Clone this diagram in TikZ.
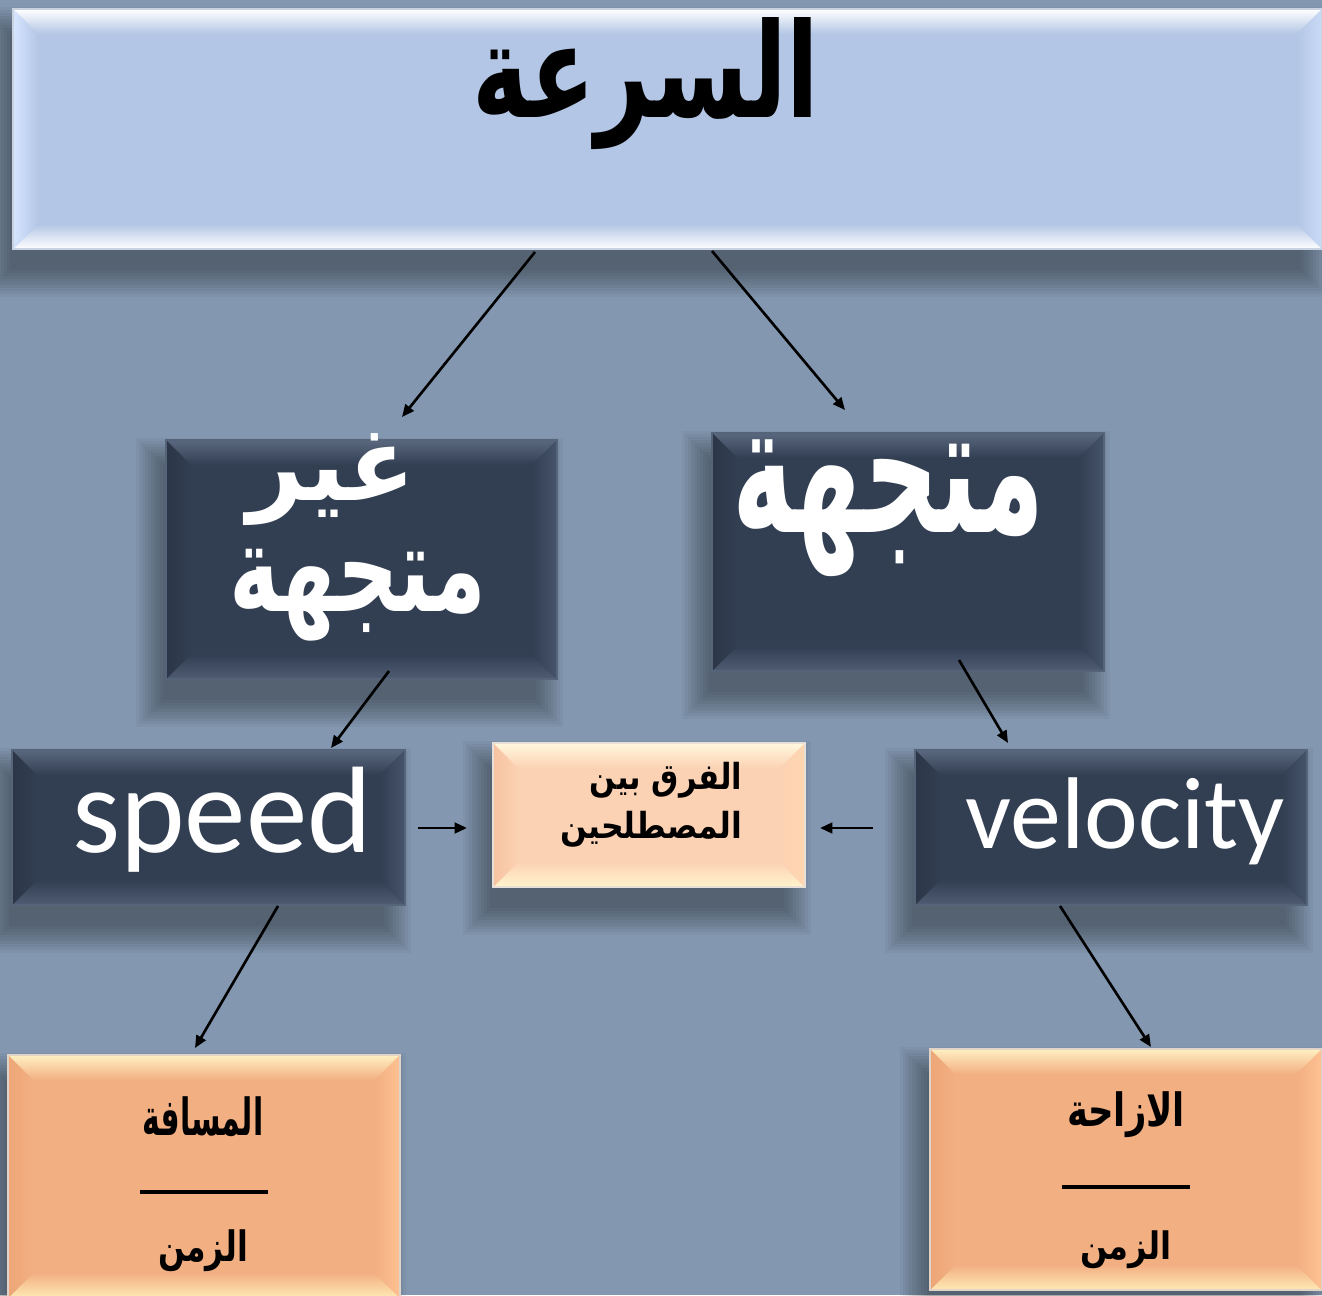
\documentclass[tikz,border=0pt]{standalone}
\usepackage{fontspec}
\usepackage{graphicx}
\usetikzlibrary{arrows.meta,fit,calc}
\TeXXeTstate=1
\newfontfamily\arabicfont[Script=Arabic]{DejaVu Sans}
\setsansfont{Carlito}
\newlength\pxu
\setlength\pxu{0.02cm}

\definecolor{bg}{HTML}{8397B0}
% title box (A)
\definecolor{Afill}{HTML}{B3C6E5}
\definecolor{Atop}{HTML}{FFFFFF}
\definecolor{Abot}{HTML}{FFFFFF}
\definecolor{Aleft}{HTML}{D6E6FF}
\definecolor{Aright}{HTML}{C9DBF6}
\definecolor{Aedge}{HTML}{C8D2E0}
% dark boxes (D)
\definecolor{Dfill}{HTML}{323E52}
\definecolor{Dtop}{HTML}{5A687F}
\definecolor{Dbot}{HTML}{4F5C73}
\definecolor{Dleft}{HTML}{2C3648}
\definecolor{Dright}{HTML}{46546B}
\definecolor{Dedge}{HTML}{56647A}
% light peach (P)
\definecolor{Pfill}{HTML}{FCD2B4}
\definecolor{Ptop}{HTML}{FFF8DE}
\definecolor{Pbot}{HTML}{FFF4CC}
\definecolor{Pleft}{HTML}{F6C3A0}
\definecolor{Pright}{HTML}{FFD6B0}
\definecolor{Pedge}{HTML}{E8E0D8}
% orange (Q)
\definecolor{Qfill}{HTML}{F2AF82}
\definecolor{Qtop}{HTML}{FFF0C2}
\definecolor{Qbot}{HTML}{FFEAB4}
\definecolor{Qleft}{HTML}{EDA677}
\definecolor{Qright}{HTML}{FFC292}
\definecolor{Qedge}{HTML}{E0D4C8}

\newcommand\bshadow[4]{%
  \foreach \k in {1,...,10}{%
    \fill[black,opacity=0.04] (#1-3*\k,#2+28-3*\k) rectangle (#3-24+3*\k,#4+18+3*\k);
  }%
}
\newcommand\bevbox[6]{%
  \coordinate (#1-nw) at (#2,#3);
  \coordinate (#1-se) at (#4,#5);
  \node[fit=(#1-nw)(#1-se),inner sep=0pt] (#1) {};
  \fill[#6fill] (#2,#3) rectangle (#4,#5);
  \shade[top color=#6top,bottom color=#6fill] (#2,#3) -- (#4,#3) -- (#4-25,#3+25) -- (#2+25,#3+25) -- cycle;
  \shade[top color=#6fill,bottom color=#6bot] (#2,#5) -- (#4,#5) -- (#4-25,#5-25) -- (#2+25,#5-25) -- cycle;
  \shade[left color=#6left,right color=#6fill] (#2,#3) -- (#2+25,#3+25) -- (#2+25,#5-25) -- (#2,#5) -- cycle;
  \shade[left color=#6fill,right color=#6right] (#4,#3) -- (#4-25,#3+25) -- (#4-25,#5-25) -- (#4,#5) -- cycle;
  \draw[#6edge,line width=0.6pt] (#2,#3) rectangle (#4,#5);
}
% Arabic text: name, x, y, colour, width(px), height(px), text (with \beginR..\endR)
\newcommand\artext[7]{%
  \node[text=#4,inner sep=0pt] (#1) at (#2,#3) {\resizebox*{#5\pxu}{#6\pxu}{\arabicfont\bfseries #7}};
}
% Latin text: name, x, y, size(pt), text
\newcommand\latext[5]{%
  \node[text=white,inner sep=0pt] (#1) at (#2,#3) {\fontsize{#4}{#4}\selectfont\sffamily #5};
}

\begin{document}
\begin{tikzpicture}[x=0.02cm,y=-0.02cm,
  arr/.style={line width=1.5pt,-{Triangle[length=7pt,width=6pt]}},
  fracline/.style={line width=2.3pt,black}]
\useasboundingbox (0,0) rectangle (1322,1295);
\clip (0,0) rectangle (1322,1295);
\fill[bg] (0,0) rectangle (1322,1295);

% shadows
\bshadow{13}{9}{1322}{249}
\bshadow{166}{440}{557}{679}
\bshadow{712}{433}{1104}{671}
\bshadow{12}{750}{405}{905}
\bshadow{915}{750}{1307}{905}
\bshadow{493}{743}{805}{887}
\bshadow{8}{1055}{400}{1298}
\bshadow{930}{1049}{1322}{1290}

% boxes
\bevbox{title}{13}{9}{1322}{249}{A}
\bevbox{scalar}{166}{440}{557}{679}{D}
\bevbox{vector}{712}{433}{1104}{671}{D}
\bevbox{speed}{12}{750}{405}{905}{D}
\bevbox{velocity}{915}{750}{1307}{905}{D}
\bevbox{diff}{493}{743}{805}{887}{P}
\bevbox{dist}{8}{1055}{400}{1298}{Q}
\bevbox{disp}{930}{1049}{1322}{1290}{Q}

% texts
\artext{ttitle}{646}{84}{black}{347}{132}{\beginR السرعة\endR}
\artext{tscalarA}{332}{480}{white}{168}{92}{\beginR غير\endR}
\artext{tscalarB}{358}{595}{white}{257}{92}{\beginR متجهة\endR}
\artext{tvector}{889}{508}{white}{312}{137}{\beginR متجهة\endR}
\latext{tspeed}{222}{820}{70}{speed}
\latext{tvelocity}{1125}{821}{58}{velocity}
\artext{tdiffA}{666}{780}{black}{152}{36}{\beginR الفرق بين\endR}
\artext{tdiffB}{651}{829}{black}{182}{36}{\beginR المصطلحين\endR}
\artext{tdist}{203}{1117}{black}{121}{40}{\beginR المسافة\endR}
\artext{ttimeL}{203}{1251}{black}{90}{42}{\beginR الزمن\endR}
\artext{tdisp}{1126}{1115}{black}{118}{46}{\beginR الازاحة\endR}
\artext{ttimeR}{1126}{1250}{black}{92}{38}{\beginR الزمن\endR}

% fraction lines
\coordinate (fl1) at (140,1192);
\coordinate (fl2) at (268,1192);
\coordinate (fr1) at (1062,1187);
\coordinate (fr2) at (1190,1187);
\draw[fracline] (fl1) -- (fl2);
\draw[fracline] (fr1) -- (fr2);

% arrows
\coordinate (a1s) at (535,252);  \coordinate (a1e) at (402,417);
\coordinate (a2s) at (712,251);  \coordinate (a2e) at (845,410);
\coordinate (a3s) at (389,671);  \coordinate (a3e) at (331,748);
\coordinate (a4s) at (959,660);  \coordinate (a4e) at (1008,743);
\coordinate (a5s) at (418,828);  \coordinate (a5e) at (467,828);
\coordinate (a6s) at (873,828);  \coordinate (a6e) at (820,828);
\coordinate (a7s) at (278,906);  \coordinate (a7e) at (195,1048);
\coordinate (a8s) at (1060,906); \coordinate (a8e) at (1151,1047);
\draw[arr] (a1s) -- (a1e);
\draw[arr] (a2s) -- (a2e);
\draw[arr] (a3s) -- (a3e);
\draw[arr] (a4s) -- (a4e);
\draw[arr] (a5s) -- (a5e);
\draw[arr] (a6s) -- (a6e);
\draw[arr] (a7s) -- (a7e);
\draw[arr] (a8s) -- (a8e);
\end{tikzpicture}
\end{document}
